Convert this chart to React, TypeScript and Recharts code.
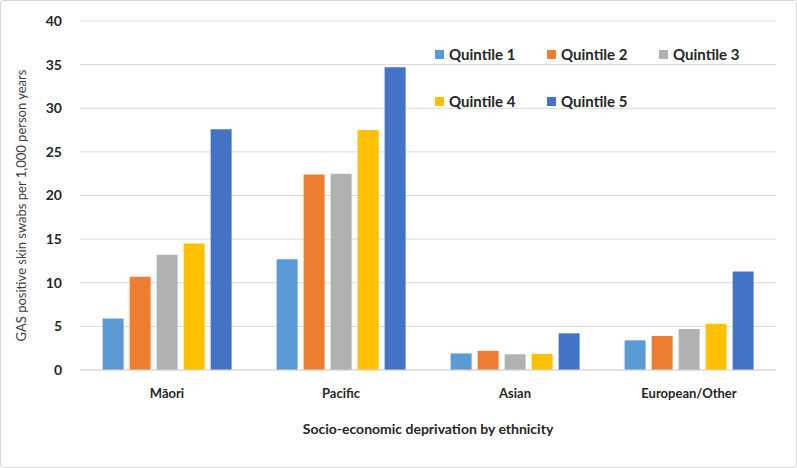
import { Bar, BarChart, CartesianGrid, XAxis, YAxis } from "recharts";

const ETNIAS = ["Māori", "Pacific", "Asian", "European/Other"];
const QUINTIL_1 = [5.9, 12.7, 1.9, 3.4];
const QUINTIL_2 = [10.7, 22.4, 2.2, 3.9];
const QUINTIL_3 = [13.2, 22.5, 1.8, 4.7];
const QUINTIL_4 = [14.5, 27.5, 1.85, 5.3];
const QUINTIL_5 = [27.6, 34.7, 4.2, 11.3];
const TICKS_Y = [0, 5, 10, 15, 20, 25, 30, 35, 40];

const SERIES = [
  { chave: "q1", nome: "Quintile 1", cor: "#5b9bd5", valores: QUINTIL_1 },
  { chave: "q2", nome: "Quintile 2", cor: "#ed7d31", valores: QUINTIL_2 },
  { chave: "q3", nome: "Quintile 3", cor: "#b0b1b3", valores: QUINTIL_3 },
  { chave: "q4", nome: "Quintile 4", cor: "#ffc000", valores: QUINTIL_4 },
  { chave: "q5", nome: "Quintile 5", cor: "#4472c4", valores: QUINTIL_5 },
];

const dados = ETNIAS.map((etnia, i) => {
  const linha: Record<string, string | number> = { etnia };
  SERIES.forEach((s) => {
    linha[s.chave] = s.valores[i];
  });
  return linha;
});

const FONTE = "Lato, 'Open Sans', sans-serif";

function Legenda() {
  return (
    <div
      style={{
        position: "absolute",
        top: 45,
        left: 434,
        display: "flex",
        flexWrap: "wrap",
        width: 340,
        rowGap: 30,
        fontFamily: FONTE,
        fontWeight: 700,
        fontSize: 15,
        lineHeight: "17px",
        color: "#262626",
      }}
    >
      {SERIES.map((s) => (
        <div
          key={s.chave}
          style={{ width: 112, display: "flex", alignItems: "center" }}
        >
          <span
            style={{
              display: "inline-block",
              width: 9,
              height: 9,
              background: s.cor,
              marginRight: 5,
            }}
          />
          {s.nome}
        </div>
      ))}
    </div>
  );
}

export default function App() {
  return (
    <div
      style={{
        position: "absolute",
        top: 0,
        left: 0,
        width: 795,
        height: 466,
        border: "1px solid #d9d9d9",
        borderRadius: 3,
        background: "#fff",
      }}
    >
      <BarChart
        width={795}
        height={466}
        data={dados}
        margin={{ top: 20, right: 20, left: 0, bottom: 35 }}
        barCategoryGap="13%"
        barGap={6}
      >
        <CartesianGrid vertical={false} stroke="#d9d9d9" />
        <XAxis
          dataKey="etnia"
          axisLine={{ stroke: "#d9d9d9" }}
          tickLine={false}
          tick={{ fill: "#262626", fontSize: 13, fontWeight: 700, fontFamily: FONTE }}
          tickMargin={13}
          height={62}
          label={{
            value: "Socio-economic deprivation by ethnicity",
            position: "insideBottom",
            offset: -2,
            fill: "#262626",
            fontSize: 14,
            fontWeight: 700,
            fontFamily: FONTE,
          }}
        />
        <YAxis
          domain={[0, 40]}
          ticks={TICKS_Y}
          width={79}
          axisLine={false}
          tickLine={false}
          tick={{ fill: "#262626", fontSize: 14, fontWeight: 700, fontFamily: FONTE }}
          tickMargin={12}
          label={{
            value: "GAS positive skin swabs per 1,000 person years",
            angle: -90,
            position: "insideLeft",
            offset: 20,
            dy: 10,
            textAnchor: "middle",
            fill: "#404040",
            fontSize: 13,
            fontFamily: FONTE,
          }}
        />
        {SERIES.map((s) => (
          <Bar
            key={s.chave}
            dataKey={s.chave}
            name={s.nome}
            fill={s.cor}
            isAnimationActive={false}
          />
        ))}
      </BarChart>
      <Legenda />
    </div>
  );
}
